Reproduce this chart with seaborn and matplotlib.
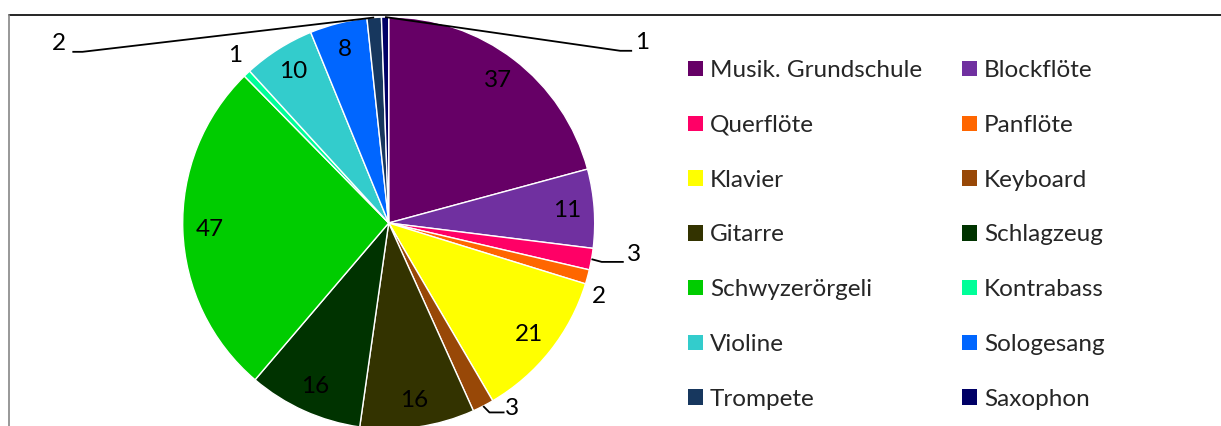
import numpy as np
import matplotlib
matplotlib.use("Agg")
import matplotlib.pyplot as plt
from matplotlib.patches import Patch
from matplotlib.lines import Line2D
import seaborn as sns

# -----------------------------------------------------------------------------
# Données
# -----------------------------------------------------------------------------
instruments = ["Musik. Grundschule", "Blockflöte", "Querflöte", "Panflöte",
               "Klavier", "Keyboard", "Gitarre", "Schlagzeug",
               "Schwyzerörgeli", "Kontrabass", "Violine", "Sologesang",
               "Trompete", "Saxophon"]
schueler = [37, 11, 3, 2, 21, 3, 16, 16, 47, 1, 10, 8, 2, 1]

couleurs = ["#660066", "#7030A0", "#FF0066", "#FF6600", "#FFFF00", "#984807",
            "#333300", "#003300", "#00CC00", "#00FF99", "#33CCCC", "#0066FF",
            "#17375E", "#000066"]

# étiquettes extérieures : (rayon, décalage angulaire en degrés, horaire)
ext_labels = {
    2: (1.20, -2.7),
    3: (1.08, 4.2),
    5: (1.08, -6.2),
    9: (1.105, 1.0),
    12: (1.82, -57.4),
    13: (1.51, 55.6),
}
# lignes de rappel : décalage de l'extrémité par rapport au texte, longueur du coude
leaders = {
    2: (-0.049, -0.034, -0.107),
    5: (-0.034, -0.019, -0.073),
    12: (0.063, -0.039, 0.049),
    13: (-0.049, -0.039, -0.058),
}

sns.set_theme(style="white")
plt.rcParams["font.family"] = ["Lato", "DejaVu Sans"]

W, H = 1221, 426
fig = plt.figure(figsize=(W / 100, H / 100), dpi=100)
fig.patch.set_facecolor("white")

# position du camembert en pixels
cx, cy, r = 388.7, 223, 206
ax = fig.add_axes([(cx - r) / W, (H - cy - r) / H, 2 * r / W, 2 * r / H])

wedges, _ = ax.pie(schueler, colors=couleurs, startangle=90, counterclock=False,
                   radius=1, wedgeprops=dict(edgecolor="white", linewidth=1))
ax.set_xlim(-1, 1)
ax.set_ylim(-1, 1)

fs = 17.5
for i, (w, val) in enumerate(zip(wedges, schueler)):
    mid = np.deg2rad((w.theta1 + w.theta2) / 2)
    if i in ext_labels:
        rr, off = ext_labels[i]
        ang = mid - np.deg2rad(off)
        tx, ty = rr * np.cos(ang), rr * np.sin(ang)
        ax.text(tx, ty, str(val), ha="center", va="center", fontsize=fs,
                color="black", clip_on=False)
        if i in leaders:
            dx, dy, el = leaders[i]
            ex, ey = tx + dx, ty + dy
            xs = [np.cos(mid), ex + el, ex]
            ys = [np.sin(mid), ey, ey]
            ax.plot(xs, ys, color="black", lw=1.3, clip_on=False,
                    solid_capstyle="butt")
    else:
        ax.text(0.87 * np.cos(mid), 0.87 * np.sin(mid), str(val),
                ha="center", va="center", fontsize=fs, color="black")

# légende sur deux colonnes, remplie ligne par ligne
handles = [Patch(facecolor=c, edgecolor="none") for c in couleurs]
order = list(range(0, 14, 2)) + list(range(1, 14, 2))
leg = fig.legend([handles[k] for k in order], [instruments[k] for k in order],
                 ncol=2, loc="upper left", bbox_to_anchor=(688 / W, 1 - 60 / H),
                 frameon=False, fontsize=fs, handlelength=0.6, handleheight=0.6,
                 handletextpad=0.3, columnspacing=1.65, labelspacing=1.39,
                 borderpad=0, borderaxespad=0)

# cadre du graphique (haut et gauche visibles)
fig.add_artist(Line2D([9 / W, 1], [1 - 15 / H, 1 - 15 / H], color="black", lw=1.2))
fig.add_artist(Line2D([9 / W, 9 / W], [0, 1 - 15 / H], color="#868686", lw=1.2))

plt.savefig("out.png", dpi=100)
plt.close()
